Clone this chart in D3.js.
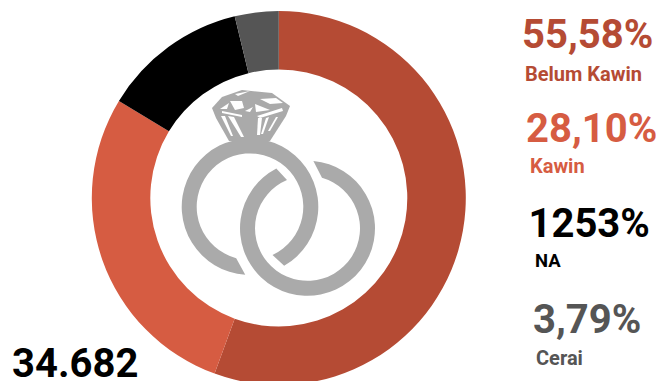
<!DOCTYPE html>
<html>
<head>
<meta charset="utf-8">
<script src="https://cdn.jsdelivr.net/npm/d3@7"></script>
<style>
html,body{margin:0;padding:0;background:#fff;overflow:hidden}
text{font-family:Roboto,sans-serif;font-weight:700}
</style>
</head>
<body>
<svg id="chart" width="656" height="381"></svg>
<script>
const categories = ["Belum Kawin", "Kawin", "NA", "Cerai"];
const shares = [55.58, 28.10, 12.53, 3.79];
const shareLabels = ["55,58%", "28,10%", "1253%", "3,79%"];
const sliceColors = ["#b54b34", "#d65c42", "#000000", "#555555"];
const totalLabel = "34.682";

const svg = d3.select("#chart");
const cx = 278.8, cy = 198;

const pie = d3.pie().sort(null).value(d => d);
const arc = d3.arc().innerRadius(128.5).outerRadius(187);

svg.append("g").attr("transform", `translate(${cx},${cy})`)
  .selectAll("path").data(pie(shares)).join("path")
  .attr("d", arc)
  .attr("fill", (d, i) => sliceColors[i]);

// Wedding rings: open bands whose cut ends are slanted
const ICON = "#aaaaaa";
function band(x, y, ro, ri, startOuter, endOuter, startInner, endInner) {
  const rad = a => (a - 90) * Math.PI / 180;
  const p = d3.path();
  p.moveTo(x + ro * Math.cos(rad(startOuter)), y + ro * Math.sin(rad(startOuter)));
  p.arc(x, y, ro, rad(startOuter), rad(endOuter), false);
  p.lineTo(x + ri * Math.cos(rad(endInner)), y + ri * Math.sin(rad(endInner)));
  p.arc(x, y, ri, rad(endInner), rad(startInner), true);
  p.closePath();
  return p.toString();
}
const icon = svg.append("g");
icon.append("path").attr("fill", ICON).attr("d", band(250, 206.7, 68.3, 53.3, 184, 510, 195, 515));
icon.append("path").attr("fill", ICON).attr("d", band(307.5, 228.3, 67.5, 52.5, 5, 332.5, 16, 337));

// Diamond body and its facets
const line = d3.line();
const stone = [[212,108],[222,97],[242,90],[272,93],[290,106],[286,116],[270,141],[229,141],[216,118]];
const facets = [
  [[220,109],[229,103],[227,109]],
  [[230,101],[242,101],[244,108],[235,110]],
  [[235,94],[250,91],[238,96]],
  [[255,104],[270,110],[256,112]],
  [[260,99],[276,98],[283,103],[270,104]],
  [[245,111],[253,107],[250,112]],
  [[257,116],[282,108],[283,111],[260,118]],
  [[222,111],[242,115],[242,117],[222,113]],
  [[221,116],[225,116],[233,136],[231,136]],
  [[228,116],[234,117],[244,137],[241,137]],
  [[258,118],[262,118],[260,135],[257,135]],
  [[266,118],[269,117],[263,134],[261,134]],
  [[276,117],[278,117],[270,131],[268,131]]
];
icon.append("path").attr("fill", ICON).attr("d", line(stone) + "Z");
icon.append("g").selectAll("path").data(facets).join("path")
  .attr("fill", "#fff").attr("d", d => line(d) + "Z");

// Share figures and category names down the right side
const valueX = [522, 526, 528.5, 533];
const valueY = [47.5, 141.5, 236.5, 332.5];
const nameX = [525, 530, 535, 536];
const nameY = [81, 173, 267, 364.5];
const nameSize = [20, 20, 18.5, 20];
const valueSize = 40;

svg.append("g").selectAll("text").data(shareLabels).join("text")
  .attr("x", (d, i) => valueX[i]).attr("y", (d, i) => valueY[i])
  .attr("font-size", valueSize)
  .attr("fill", (d, i) => sliceColors[i])
  .text(d => d);

svg.append("g").selectAll("text").data(categories).join("text")
  .attr("x", (d, i) => nameX[i]).attr("y", (d, i) => nameY[i])
  .attr("font-size", (d, i) => nameSize[i])
  .attr("fill", (d, i) => sliceColors[i])
  .text(d => d);

svg.append("text").attr("x", 12).attr("y", 377)
  .attr("font-size", 40).attr("fill", "#000").text(totalLabel);
</script>
</body>
</html>
